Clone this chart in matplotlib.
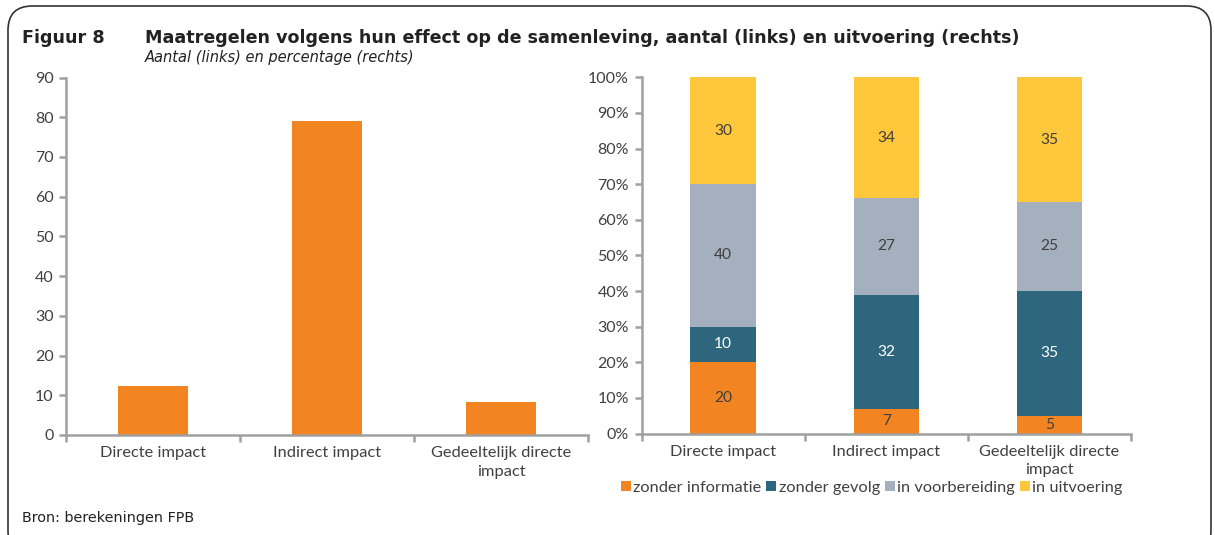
import matplotlib.pyplot as plt
from matplotlib.patches import FancyBboxPatch

# data
categories = ['Directe impact', 'Indirect impact', 'Gedeeltelijk directe\nimpact']
aantal = [12.4, 79, 8.2]

stages = ['zonder informatie', 'zonder gevolg', 'in voorbereiding', 'in uitvoering']
zonder_informatie = [20, 7, 5]
zonder_gevolg = [10, 32, 35]
in_voorbereiding = [40, 27, 25]
in_uitvoering = [30, 34, 35]

colors = ['#F28522', '#2E677D', '#A5B0BE', '#FFC73B']
label_colors = ['#404040', 'white', '#404040', '#404040']
txt = '#404040'
spine = '#A0A0A0'

plt.rcParams['font.family'] = ['Lato', 'DejaVu Sans']

W, H = 1215, 535
fig = plt.figure(figsize=(W / 100, H / 100), dpi=100)


def px_axes(x0, y0, x1, y1):
    # pixel box (top-left origin) -> figure axes
    return fig.add_axes([x0 / W, 1 - y1 / H, (x1 - x0) / W, (y1 - y0) / H])


def style(ax):
    for s in ['top', 'right']:
        ax.spines[s].set_visible(False)
    for s in ['left', 'bottom']:
        ax.spines[s].set_color(spine)
        ax.spines[s].set_linewidth(1.8)
    ax.set_xlim(-0.5, 2.5)
    ax.set_xticks(range(3))
    ax.set_xticklabels(categories, fontsize=11.8, color=txt, linespacing=1.4)
    ax.tick_params(axis='x', which='major', length=0, pad=8)
    ax.set_xticks([-0.5, 0.5, 1.5, 2.5], minor=True)
    ax.tick_params(axis='x', which='minor', length=5, width=1.8, color=spine)
    ax.tick_params(axis='y', length=5, width=1.8, color=spine, labelsize=11.5,
                   labelcolor=txt, pad=4)


# linker grafiek: aantal
ax1 = px_axes(66, 77.5, 588, 435)
x = range(len(categories))
ax1.bar(x, aantal, width=0.4, color=colors[0])
ax1.set_ylim(0, 90)
ax1.set_yticks(range(0, 91, 10))
style(ax1)

# rechter grafiek: uitvoering (percentages)
ax2 = px_axes(641.5, 77.3, 1131, 433.5)
bottom = [0, 0, 0]
series = [zonder_informatie, zonder_gevolg, in_voorbereiding, in_uitvoering]
for name, vals, c, lc in zip(stages, series, colors, label_colors):
    bars = ax2.bar(x, vals, width=0.4, bottom=bottom, color=c, label=name)
    ax2.bar_label(bars, labels=[str(v) for v in vals], label_type='center',
                  color=lc, fontsize=11.2)
    bottom = [b + v for b, v in zip(bottom, vals)]
ax2.set_ylim(0, 100)
ax2.set_yticks(range(0, 101, 10))
ax2.set_yticklabels([f'{v}%' for v in range(0, 101, 10)])
style(ax2)

ax2.legend(loc='upper center', bbox_to_anchor=(0.47, -0.115), ncol=4,
           frameon=False, fontsize=11.8, handlelength=0.6, handleheight=0.6,
           handletextpad=0.15, columnspacing=0.3, labelcolor=txt,
           borderaxespad=0)

# titel en bron
fig.text(22 / W, 1 - 43 / H, 'Figuur 8', fontsize=12.6, fontweight='bold',
         color='#222222', family=['DejaVu Sans'], va='baseline')
fig.text(145 / W, 1 - 43 / H,
         'Maatregelen volgens hun effect op de samenleving, aantal (links) en uitvoering (rechts)',
         fontsize=12.6, fontweight='bold', color='#222222', family=['DejaVu Sans'], va='baseline')
fig.text(145 / W, 1 - 62 / H, 'Aantal (links) en percentage (rechts)', fontsize=10.5,
         style='italic', color='#222222', family=['DejaVu Sans'], va='baseline')
fig.text(22 / W, 1 - 522 / H, 'Bron: berekeningen FPB', fontsize=10.4,
         color='#222222', family=['DejaVu Sans'], va='baseline')

# kader
frame = FancyBboxPatch((8 / W, -20 / H), (1211 - 8) / W, (535 - 6 + 20) / H,
                       boxstyle='round,pad=0,rounding_size=0.02',
                       transform=fig.transFigure, fill=False,
                       edgecolor='#333333', linewidth=1.2, mutation_aspect=W / H)
fig.patches.append(frame)

fig.savefig('out.png', dpi=100)
